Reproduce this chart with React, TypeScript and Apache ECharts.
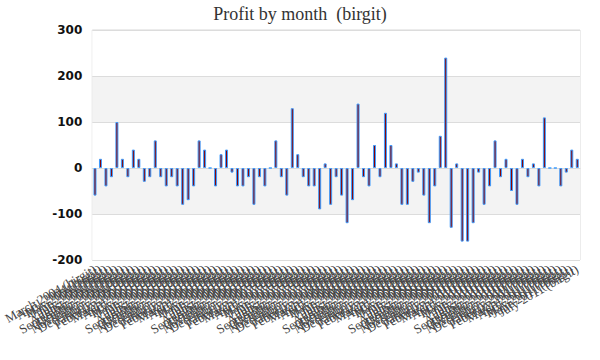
import React, { useEffect, useRef } from "react";
import * as echarts from "echarts";

const categories: string[] = [
  "March 2004", "April 2004", "May 2004", "June 2004", "July 2004", "August 2004", "September 2004", "October 2004", "November 2004", "December 2004",
  "January 2005", "February 2005", "March 2005", "April 2005", "May 2005", "June 2005", "July 2005", "August 2005", "September 2005", "October 2005", "November 2005", "December 2005",
  "January 2006", "February 2006", "March 2006", "April 2006", "May 2006", "June 2006", "July 2006", "August 2006", "September 2006", "October 2006", "November 2006", "December 2006",
  "January 2007", "February 2007", "March 2007", "April 2007", "May 2007", "June 2007", "July 2007", "August 2007", "September 2007", "October 2007", "November 2007", "December 2007",
  "January 2008", "February 2008", "March 2008", "April 2008", "May 2008", "June 2008", "July 2008", "August 2008", "September 2008", "October 2008", "November 2008", "December 2008",
  "January 2009", "February 2009", "March 2009", "April 2009", "May 2009", "June 2009", "July 2009", "August 2009", "September 2009", "October 2009", "November 2009", "December 2009",
  "January 2010", "February 2010", "March 2010", "April 2010", "May 2010", "June 2010", "July 2010", "August 2010", "September 2010", "October 2010", "November 2010", "December 2010",
  "January 2011", "February 2011", "March 2011", "April 2011", "May 2011", "June 2011", "July 2011",
];

const profit: number[] = [
  -60, 20, -40, -20, 100, 20, -20, 40, 20, -30,
  -20, 60, -20, -40, -20, -40, -80, -70, -40, 60,
  40, 0, -40, 30, 40, -10, -40, -40, -20, -80,
  -20, -40, 0, 60, -20, -60, 130, 30, -20, -40,
  -40, -90, 10, -80, -20, -60, -120, -70, 140, -20,
  -40, 50, -20, 120, 50, 10, -80, -80, -30, -10,
  -60, -120, -40, 70, 240, -130, 10, -160, -160, -120,
  -10, -80, -40, 60, -20, 20, -50, -80, 20, -20,
  10, -40, 110, 0, 0, -40, -10, 40, 20,
];

const yTicks = { min: -200, max: 300, interval: 100 };
const owner = "birgit";

export default function App() {
  const ref = useRef<HTMLDivElement>(null);
  useEffect(() => {
    if (!ref.current) return;
    const chart = echarts.init(ref.current, null, { renderer: "svg" });
    chart.setOption({
      animation: false,
      title: {
        text: "Profit by month  (" + owner + ")",
        left: "center",
        top: 0,
        textStyle: {
          fontFamily: "Liberation Serif",
          fontSize: 18,
          fontWeight: "normal",
          color: "#333",
        },
      },
      grid: {
        left: 80,
        right: 20,
        top: 30,
        bottom: 100,
        show: true,
        borderColor: "#d9d9d9",
        borderWidth: 1,
        backgroundColor: "transparent",
      },
      xAxis: {
        type: "category",
        data: categories,
        boundaryGap: true,
        axisLine: { show: true, lineStyle: { color: "#d9d9d9" } },
        axisTick: { show: false },
        axisLabel: {
          interval: 0,
          rotate: 30,
          margin: 8,
          color: "#444",
          fontFamily: "Liberation Serif",
          fontSize: 13,
          formatter: (v: string) => v + " (" + owner + ")",
        },
      },
      yAxis: {
        type: "value",
        min: yTicks.min,
        max: yTicks.max,
        interval: yTicks.interval,
        axisLine: { show: false },
        axisTick: { show: false },
        axisLabel: {
          color: "#111",
          fontFamily: "DejaVu Sans",
          fontSize: 12,
          fontWeight: "bold",
          margin: 10,
        },
        splitLine: { show: true, lineStyle: { color: "#dcdcdc" } },
        splitArea: { show: true, areaStyle: { color: ["#ffffff", "#f3f3f3"] } },
      },
      series: [
        {
          type: "bar",
          data: profit,
          barWidth: 3,
          itemStyle: {
            color: "#8b0000",
            borderColor: "#3d9cff",
            borderWidth: 1,
          },
        },
      ],
    });
    return () => chart.dispose();
  }, []);
  return (
    <div
      ref={ref}
      style={{ position: "absolute", left: 0, top: 0, width: 600, height: 360 }}
    />
  );
}
